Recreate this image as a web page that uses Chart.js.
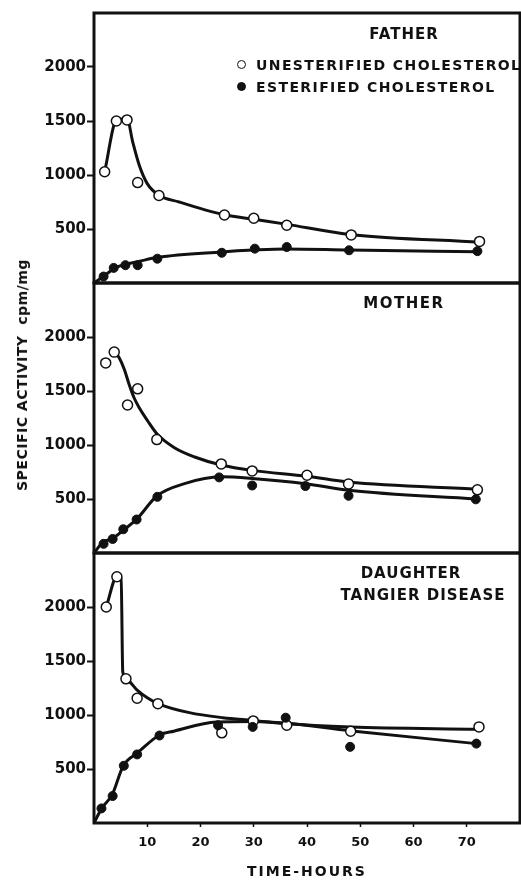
<!DOCTYPE html>
<html>
<head>
<meta charset="utf-8">
<script src="https://cdn.jsdelivr.net/npm/chart.js@4.4.1/dist/chart.umd.min.js"></script>
<style>
    html, body { margin: 0; padding: 0; background: #fff; }
    #page { position: relative; width: 521px; height: 882px; overflow: hidden;
            font-family: "DejaVu Sans", sans-serif; font-weight: bold; color: #111; }
    #page canvas { position: absolute; left: 0; top: 0; }
    .lbl { position: absolute; white-space: nowrap; transform: translate(-50%, -50%); }
    .key { position: absolute; white-space: nowrap; font-size: 14px; letter-spacing: 1.4px; line-height: 16px; }
    .dot { display: inline-block; width: 7px; height: 7px; border-radius: 50%; border: 1.5px solid #111;
           margin-right: 10px; vertical-align: 1px; }
    .dot.open { background: #fff; }
    .dot.full { background: #111; }
</style>
</head>
<body>
<div id="page">
    <canvas id="fatherChart" width="521" height="882"></canvas>
    <canvas id="motherChart" width="521" height="882"></canvas>
    <canvas id="daughterChart" width="521" height="882"></canvas>

    <div class="lbl" style="left:404px; top:34px; font-size:15px; letter-spacing:1px;">FATHER</div>
    <div class="key" style="left:237px; top:57px;"><span class="dot open"></span>UNESTERIFIED CHOLESTEROL</div>
    <div class="key" style="left:237px; top:79px;"><span class="dot full"></span>ESTERIFIED CHOLESTEROL</div>
    <div class="lbl" style="left:404px; top:303px; font-size:15px; letter-spacing:1.5px;">MOTHER</div>
    <div class="lbl" style="left:411px; top:573px; font-size:15px; letter-spacing:1px;">DAUGHTER</div>
    <div class="lbl" style="left:423px; top:595px; font-size:15px; letter-spacing:1px;">TANGIER DISEASE</div>

    <div class="lbl" style="left:22px; top:375px; font-size:14px; letter-spacing:0.5px; transform:translate(-50%, -50%) rotate(-90deg);">SPECIFIC ACTIVITY&nbsp;&nbsp;cpm/mg</div>
    <div class="lbl" style="left:307px; top:871px; font-size:14px; letter-spacing:2px;">TIME-HOURS</div>
</div>

<script>
// tick labels
const hourTicks = [10, 20, 30, 40, 50, 60, 70];
const activityTicks = [500, 1000, 1500, 2000];

// father - measured points
const fatherFreeHours = [2, 4.2, 6.2, 8.2, 12.2, 24.5, 30, 36.2, 48.3, 72.4];
const fatherFree = [1030, 1500, 1510, 930, 810, 630, 600, 535, 445, 385];
const fatherEsterHours = [1.8, 3.7, 5.9, 8.2, 11.9, 24, 30.2, 36.2, 47.9, 72];
const fatherEster = [60, 140, 165, 165, 225, 280, 318, 333, 303, 295];
// father - drawn curves
const fatherFreeCurveHours = [2, 4.2, 6.2, 7.3, 8.5, 10, 12.2, 16, 21, 24.5, 30, 36, 48, 72.4];
const fatherFreeCurve = [1030, 1505, 1520, 1300, 1090, 920, 812, 750, 675, 632, 590, 545, 450, 378];
const fatherEsterCurveHours = [0, 2, 4, 6, 8, 12, 24, 30, 36, 48, 72];
const fatherEsterCurve = [0, 70, 140, 175, 195, 238, 288, 305, 315, 305, 290];

// mother - measured points
const motherFreeHours = [2.2, 3.8, 6.3, 8.2, 11.8, 23.9, 29.7, 40, 47.8, 72];
const motherFree = [1760, 1860, 1370, 1520, 1050, 825, 760, 720, 640, 585];
const motherEsterHours = [1.8, 3.5, 5.5, 8, 11.9, 23.5, 29.7, 39.7, 47.8, 71.7];
const motherEster = [85, 130, 220, 310, 520, 700, 625, 620, 530, 497];
// mother - drawn curves
const motherFreeCurveHours = [3.9, 4.7, 5.7, 6.6, 7.5, 8.5, 10.1, 11.9, 15.1, 18.9, 23.9, 29.7, 40, 47.8, 72];
const motherFreeCurve = [1860, 1810, 1700, 1560, 1440, 1345, 1222, 1099, 975, 889, 815, 765, 711, 657, 590];
const motherEsterCurveHours = [0, 1.6, 3.5, 5.7, 8, 11.8, 17, 23.9, 29.7, 39.7, 47.8, 71.7];
const motherEsterCurve = [0, 96, 135, 219, 312, 528, 642, 705, 690, 642, 580, 500];

// daughter - measured points
const daughterFreeHours = [2.3, 4.3, 6, 8.1, 12, 24, 29.9, 36.2, 48.2, 72.3];
const daughterFree = [2000, 2280, 1335, 1155, 1105, 835, 945, 905, 850, 890];
const daughterEsterHours = [1.4, 3.5, 5.6, 8.1, 12.3, 23.3, 29.8, 36, 48.1, 71.8];
const daughterEster = [135, 250, 530, 635, 810, 905, 890, 975, 705, 735];
// daughter - drawn curves
const daughterFreeCurveHours = [2.3, 4.3, 5.1, 5.4, 6, 8, 10, 12.1, 17.9, 24.2, 29.9, 36.2, 48.2, 72];
const daughterFreeCurve = [2000, 2280, 2265, 1400, 1336, 1236, 1160, 1104, 1022, 975, 949, 918, 889, 868];
const daughterEsterCurveHours = [0, 1.5, 3.4, 5.5, 8.2, 12.3, 15, 23, 30, 36, 48, 71.8];
const daughterEsterCurve = [0, 140, 260, 530, 650, 815, 850, 935, 940, 925, 855, 735];

const INK = '#111';
const PAGE_H = 882;
const AXIS_LEFT = 94;
const AXIS_RIGHT = 520;

function pairs(xs, ys) {
    return xs.map((x, i) => ({ x: x, y: ys[i] }));
}

const framePlugin = {
    id: 'frame',
    afterDraw(chart) {
        const a = chart.chartArea;
        const ctx = chart.ctx;
        ctx.save();
        ctx.strokeStyle = INK;
        ctx.lineWidth = 3;
        ctx.strokeRect(a.left, a.top, a.right - a.left, a.bottom - a.top);
        ctx.restore();
    }
};

function createPanel(canvasId, top, bottom, showHours, series) {
    const ctx = document.getElementById(canvasId).getContext('2d');
    return new Chart(ctx, {
        type: 'scatter',
        data: {
            datasets: [
                {
                    data: pairs(series.freeCurveHours, series.freeCurve),
                    showLine: true,
                    borderColor: INK,
                    borderWidth: 3,
                    pointRadius: 0,
                    cubicInterpolationMode: 'monotone',
                    order: 2
                },
                {
                    data: pairs(series.esterCurveHours, series.esterCurve),
                    showLine: true,
                    borderColor: INK,
                    borderWidth: 3,
                    pointRadius: 0,
                    cubicInterpolationMode: 'monotone',
                    order: 2
                },
                {
                    data: pairs(series.freeHours, series.free),
                    pointRadius: 5,
                    pointBorderWidth: 1.5,
                    pointBorderColor: INK,
                    pointBackgroundColor: '#fff',
                    order: 1
                },
                {
                    data: pairs(series.esterHours, series.ester),
                    pointRadius: 4.5,
                    pointBorderWidth: 1,
                    pointBorderColor: INK,
                    pointBackgroundColor: INK,
                    order: 0
                }
            ]
        },
        options: {
            responsive: false,
            animation: false,
            events: [],
            layout: {
                autoPadding: false,
                padding: {
                    left: 0,
                    right: 521 - AXIS_RIGHT,
                    top: top,
                    bottom: showHours ? 0 : PAGE_H - bottom
                }
            },
            plugins: {
                legend: { display: false },
                tooltip: { enabled: false }
            },
            scales: {
                x: {
                    type: 'linear',
                    min: 0,
                    max: 80,
                    display: showHours,
                    afterFit: (scale) => { scale.height = showHours ? PAGE_H - bottom : 0; },
                    afterBuildTicks: (scale) => { scale.ticks = hourTicks.map(v => ({ value: v })); },
                    grid: { drawOnChartArea: false, tickLength: 4, tickWidth: 1.5, color: INK },
                    border: { display: false },
                    ticks: {
                        padding: 8,
                        color: INK,
                        font: { family: 'DejaVu Sans', weight: 'bold', size: 13 }
                    }
                },
                y: {
                    min: 0,
                    max: 2500,
                    afterFit: (scale) => { scale.width = AXIS_LEFT; },
                    afterBuildTicks: (scale) => { scale.ticks = activityTicks.map(v => ({ value: v })); },
                    grid: { drawOnChartArea: false, tickLength: 7, tickWidth: 2, color: INK },
                    border: { display: false },
                    ticks: {
                        padding: 1,
                        color: INK,
                        font: { family: 'DejaVu Sans', weight: 'bold', size: 15 },
                        callback: (value) => String(value)
                    }
                }
            }
        },
        plugins: [framePlugin]
    });
}

createPanel('fatherChart', 13, 283, false, {
    freeHours: fatherFreeHours, free: fatherFree,
    esterHours: fatherEsterHours, ester: fatherEster,
    freeCurveHours: fatherFreeCurveHours, freeCurve: fatherFreeCurve,
    esterCurveHours: fatherEsterCurveHours, esterCurve: fatherEsterCurve
});
createPanel('motherChart', 283, 553, false, {
    freeHours: motherFreeHours, free: motherFree,
    esterHours: motherEsterHours, ester: motherEster,
    freeCurveHours: motherFreeCurveHours, freeCurve: motherFreeCurve,
    esterCurveHours: motherEsterCurveHours, esterCurve: motherEsterCurve
});
createPanel('daughterChart', 553, 823, true, {
    freeHours: daughterFreeHours, free: daughterFree,
    esterHours: daughterEsterHours, ester: daughterEster,
    freeCurveHours: daughterFreeCurveHours, freeCurve: daughterFreeCurve,
    esterCurveHours: daughterEsterCurveHours, esterCurve: daughterEsterCurve
});
</script>
</body>
</html>
